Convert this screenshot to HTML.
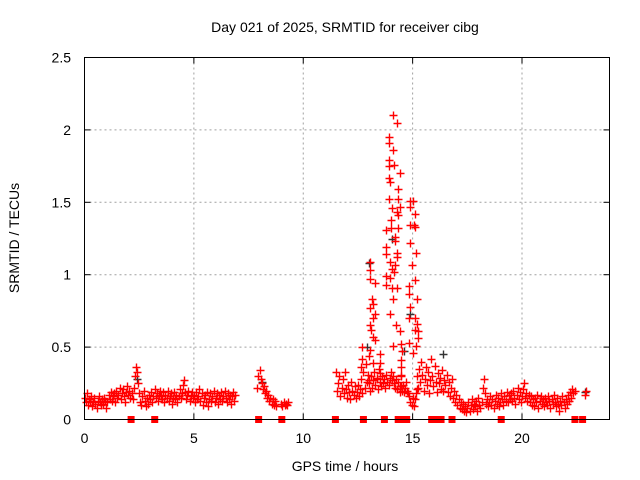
<!DOCTYPE html>
<html><head><meta charset="utf-8"><style>
body{margin:0;background:#fff;}
svg{display:block;font-family:"Liberation Sans",sans-serif;}
</style></head><body>
<svg id="chart" width="640" height="480" viewBox="0 0 640 480" xmlns="http://www.w3.org/2000/svg">
<rect width="640" height="480" fill="#fff"/>
<text x="345" y="32" font-size="14" text-anchor="middle">Day 021 of 2025, SRMTID for receiver cibg</text>
<text x="345" y="471" font-size="14" text-anchor="middle">GPS time / hours</text>
<text transform="translate(19,238) rotate(-90)" font-size="14" text-anchor="middle">SRMTID / TECUs</text>
<g id="grid"></g>
<g id="ticks"></g>
<g id="marks"></g>
<rect x="84.5" y="57.5" width="525" height="362" fill="none" stroke="#000" stroke-width="1"/>
</svg>
<script>
const xTicks=[0,5,10,15,20];
const xTickLabels=["0","5","10","15","20"];
const yTicks=[0,0.5,1,1.5,2,2.5];
const yTickLabels=["0","0.5","1","1.5","2","2.5"];
const segStarts=[0,7.9,9.0,11.5,13.0,15.2];
const segStep=0.05;
const seg0=[0.15,0.12,0.18,0.10,0.14,0.13,0.16,0.09,0.12,0.15,0.11,0.08,0.13,0.16,0.12,0.10,0.14,0.11,0.15,0.13,0.08,0.12,0.17,0.14,0.19,0.13,0.16,0.18,0.12,0.20,0.15,0.17,0.22,0.14,0.18,0.21,0.16,0.12,0.19,0.23,0.17,0.20,0.15,0.18,0.14,0.22,0.30,0.36,0.33,0.25,0.18,0.12,0.10,0.16,0.20,0.13,0.09,0.15,0.11,0.17,0.14,0.19,0.12,0.16,0.21,0.15,0.18,0.13,0.17,0.20,0.16,0.14,0.19,0.12,0.17,0.15,0.20,0.13,0.16,0.18,0.11,0.15,0.19,0.14,0.17,0.12,0.16,0.21,0.15,0.18,0.24,0.27,0.19,0.14,0.17,0.20,0.13,0.16,0.19,0.15,0.17,0.12,0.19,0.14,0.16,0.21,0.13,0.18,0.10,0.15,0.17,0.12,0.19,0.09,0.14,0.18,0.13,0.16,0.20,0.12,0.15,0.18,0.11,0.17,0.14,0.19,0.13,0.16,0.20,0.15,0.12,0.18,0.14,0.17,0.11,0.16,0.19,0.13,0.17];
const seg1=[0.22,0.30,0.34,0.28,0.25,0.21,0.23,0.18,0.20,0.15,0.17,0.13,0.15,0.11,0.14,0.10,0.13,0.09];
const seg2=[0.11,0.09,0.12,0.10,0.11,0.10,0.12];
const seg3=[0.33,0.20,0.25,0.30,0.16,0.22,0.28,0.18,0.33,0.21,0.15,0.24,0.19,0.14,0.26,0.20,0.17,0.23,0.15,0.19,0.24,0.16,0.21,0.28,0.18,0.33,0.22,0.38,0.26,0.31];
const seg4=[0.25,0.20,0.30,0.22,0.27,0.33,0.24,0.28,0.21,0.35,0.26,0.23,0.30,0.25,0.28,0.22,0.31,0.26,0.24,0.29,0.33,0.27,0.30,0.25,0.22,0.28,0.21,0.26,0.23,0.30,0.20,0.24,0.19,0.22,0.26,0.20,0.18,0.16,0.12,0.10,0.15,0.09,0.14,0.18,0.21];
const seg5=[0.30,0.22,0.35,0.26,0.40,0.31,0.20,0.28,0.36,0.24,0.33,0.18,0.27,0.42,0.30,0.23,0.37,0.26,0.19,0.32,0.25,0.29,0.21,0.34,0.20,0.27,0.24,0.31,0.19,0.26,0.16,0.22,0.28,0.15,0.20,0.12,0.17,0.10,0.14,0.08,0.12,0.07,0.11,0.06,0.09,0.05,0.08,0.12,0.06,0.10,0.14,0.07,0.11,0.09,0.13,0.06,0.15,0.10,0.08,0.12,0.22,0.28,0.18,0.11,0.14,0.09,0.12,0.16,0.10,0.14,0.08,0.13,0.17,0.11,0.15,0.09,0.12,0.18,0.14,0.10,0.16,0.13,0.19,0.12,0.17,0.14,0.18,0.13,0.20,0.15,0.11,0.17,0.22,0.14,0.19,0.12,0.16,0.21,0.25,0.15,0.18,0.13,0.17,0.12,0.16,0.10,0.14,0.09,0.15,0.12,0.17,0.08,0.13,0.16,0.11,0.14,0.09,0.15,0.12,0.10,0.16,0.13,0.08,0.14,0.11,0.17,0.12,0.09,0.15,0.11,0.06,0.13,0.10,0.16,0.12,0.08,0.14,0.11,0.17,0.13,0.19,0.15,0.21,0.18,0.20];
const stormTimes=[14.1,14.27,13.94,13.9,14.12,13.9,13.92,14.15,14.4,13.9,13.97,14.35,13.9,14.35,14.05,14.43,14.3,14.35,14.0,13.8,14.0,14.35,14.2,14.2,13.8,14.3,13.8,14.3,13.95,14.2,14.05,14.15,13.8,13.95,13.8,14.05,14.3,14.1,13.95,14.25,14.4,14.1,14.45,14.5,14.45,14.45,14.45,14.45,14.43,
14.9,15.0,15.1,14.9,15.05,14.9,15.1,14.9,15.15,14.95,15.1,14.85,14.85,15.2,14.9,14.85,15.1,15.2,15.1,15.25,15.25,15.15,14.85,15.0,
13.03,13.03,13.06,13.3,13.13,13.2,13.06,13.3,13.2,13.06,13.1,13.2,13.3,12.68,13.06,12.68,13.0,13.2,13.5,13.5,12.66,13.5,13.35,13.0,22.9,22.92];
const stormValues=[2.10,2.05,1.95,1.91,1.86,1.79,1.75,1.76,1.70,1.67,1.64,1.59,1.52,1.52,1.46,1.47,1.43,1.41,1.38,1.31,1.32,1.32,1.26,1.23,1.19,1.15,1.14,1.12,1.09,1.07,1.04,1.02,0.99,0.98,0.93,0.91,0.91,0.83,0.73,0.65,0.61,0.51,0.52,0.47,0.41,0.36,0.31,0.23,0.19,
1.51,1.51,1.42,1.47,1.34,1.34,1.33,1.22,1.15,1.07,0.96,0.92,0.87,0.83,0.78,0.70,0.70,0.66,0.62,0.61,0.56,0.51,0.53,0.46,
1.09,1.03,0.97,0.94,0.83,0.80,0.77,0.73,0.70,0.65,0.62,0.57,0.55,0.50,0.48,0.42,0.44,0.39,0.45,0.39,0.36,0.32,0.29,0.27,0.17,0.20];
const blackTimes=[2.4,8.1,12.9,13.0,14.05,14.6,14.9,16.4,22.9];
const blackValues=[0.28,0.26,0.50,1.08,1.25,0.47,0.73,0.45,0.19];
const gapTimes=[2.13,3.21,7.96,9.02,11.47,12.75,13.71,14.34,14.45,14.55,14.65,14.73,15.87,16.0,16.1,16.2,16.3,16.8,19.05,22.42,22.77];

const X0=84.5,X1=609.5,Y0=419.5,Y1=57.5;
function xs(t){return X0+(t/24)*(X1-X0);}
function ys(v){return Y0-(v/2.5)*(Y0-Y1);}
const NS="http://www.w3.org/2000/svg";
function mk(tag,parent){const e=document.createElementNS(NS,tag);parent.appendChild(e);return e;}
const grid=document.getElementById('grid'),ticks=document.getElementById('ticks'),marks=document.getElementById('marks');
xTicks.forEach((t,i)=>{
  const x=xs(t);
  if(t>0){const g=mk('line',grid);
    
    
    g.setAttribute('x1',x);g.setAttribute('x2',x);g.setAttribute('y1',Y0);g.setAttribute('y2',Y1);
    g.setAttribute('stroke','#a0a0a0');g.setAttribute('stroke-dasharray','2,3');}
  [[Y0,Y0-6],[Y1,Y1+6]].forEach(p=>{const l=mk('line',ticks);
    
    
    l.setAttribute('x1',x);l.setAttribute('x2',x);l.setAttribute('y1',p[0]);l.setAttribute('y2',p[1]);l.setAttribute('stroke','#000');});
  const tx=mk('text',ticks);
  
  
  tx.setAttribute('x',x);tx.setAttribute('y',443);tx.setAttribute('font-size','14');tx.setAttribute('text-anchor','middle');tx.textContent=xTickLabels[i];
});
yTicks.forEach((v,i)=>{
  const y=ys(v);
  if(v>0&&v<2.5){const g=mk('line',grid);
    
    
    g.setAttribute('x1',X0);g.setAttribute('x2',X1);g.setAttribute('y1',y);g.setAttribute('y2',y);
    g.setAttribute('stroke','#a0a0a0');g.setAttribute('stroke-dasharray','2,3');}
  [[X0,X0+6],[X1,X1-6]].forEach(p=>{const l=mk('line',ticks);
    
    
    l.setAttribute('x1',p[0]);l.setAttribute('x2',p[1]);l.setAttribute('y1',y);l.setAttribute('y2',y);l.setAttribute('stroke','#000');});
  const tx=mk('text',ticks);
  
  
  tx.setAttribute('x',71);tx.setAttribute('y',y+5);tx.setAttribute('font-size','14');tx.setAttribute('text-anchor','end');tx.textContent=yTickLabels[i];
});
function cross(t,v,col,name){
  const x=Math.round(xs(t))+0.5,y=Math.round(ys(v))+0.5;
  const p=mk('path',marks);
  
  
  p.setAttribute('d',`M${x-4} ${y}H${x+4}M${x} ${y-4}V${y+4}`);
  p.setAttribute('stroke',col);p.setAttribute('stroke-width','1.4');
}
blackTimes.forEach((t,i)=>cross(t,blackValues[i],'#333','black-point'));
[seg0,seg1,seg2,seg3,seg4,seg5].forEach((s,k)=>{
  s.forEach((v,i)=>cross(segStarts[k]+i*segStep,v,'#f00','srmtid-point'));
});
stormTimes.forEach((t,i)=>cross(t,stormValues[i],'#f00','srmtid-point'));
gapTimes.forEach(t=>{
  const r=mk('rect',marks);
  
  
  r.setAttribute('x',xs(t)-3.5);r.setAttribute('y',Y0-3.5);r.setAttribute('width',7);r.setAttribute('height',7);r.setAttribute('fill','#f00');
});
</script>
</body></html>
